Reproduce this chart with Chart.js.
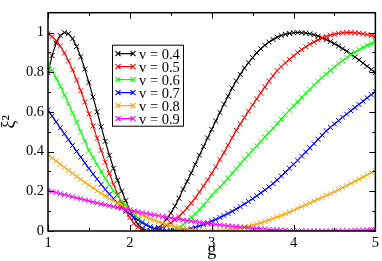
<!DOCTYPE html>
<html>
<head>
<meta charset="utf-8">
<script src="https://cdn.jsdelivr.net/npm/chart.js@4.4.0/dist/chart.umd.min.js"></script>
<style>
  html, body { margin: 0; padding: 0; background: #fff; }
  canvas { display: block; }
</style>
</head>
<body>
<canvas id="chart" width="382" height="261"></canvas>
<script>
// g values (x) and xi^2 for each v
const gVals = [
  1.00, 1.05, 1.10, 1.15, 1.20, 1.25, 1.30, 1.35, 1.40, 1.45,
  1.50, 1.55, 1.60, 1.65, 1.70, 1.75, 1.80, 1.85, 1.90, 1.95,
  2.00, 2.05, 2.10, 2.15, 2.20, 2.25, 2.30, 2.35, 2.40, 2.45,
  2.50, 2.55, 2.60, 2.65, 2.70, 2.75, 2.80, 2.85, 2.90, 2.95,
  3.00, 3.05, 3.10, 3.15, 3.20, 3.25, 3.30, 3.35, 3.40, 3.45,
  3.50, 3.55, 3.60, 3.65, 3.70, 3.75, 3.80, 3.85, 3.90, 3.95,
  4.00, 4.05, 4.10, 4.15, 4.20, 4.25, 4.30, 4.35, 4.40, 4.45,
  4.50, 4.55, 4.60, 4.65, 4.70, 4.75, 4.80, 4.85, 4.90, 4.95,
  5.00
];
const v04 = [
  0.797, 0.884, 0.947, 0.985, 1.000, 0.994, 0.969, 0.930, 0.878, 0.816,
  0.748, 0.675, 0.600, 0.525, 0.452, 0.382, 0.316, 0.256, 0.201, 0.153,
  0.105, 0.065, 0.034, 0.013, 0.002, 0.001, 0.006, 0.018, 0.036, 0.061,
  0.090, 0.125, 0.165, 0.210, 0.250, 0.292, 0.336, 0.382, 0.425, 0.469,
  0.512, 0.554, 0.597, 0.639, 0.679, 0.720, 0.756, 0.789, 0.821, 0.848,
  0.874, 0.898, 0.918, 0.936, 0.952, 0.965, 0.976, 0.985, 0.991, 0.996,
  0.999, 1.000, 0.999, 0.997, 0.994, 0.989, 0.982, 0.974, 0.965, 0.955,
  0.944, 0.932, 0.919, 0.906, 0.892, 0.877, 0.862, 0.846, 0.830, 0.814,
  0.798
];
const v05 = [
  0.994, 0.980, 0.959, 0.932, 0.897, 0.857, 0.812, 0.761, 0.707, 0.650,
  0.590, 0.529, 0.467, 0.406, 0.347, 0.290, 0.236, 0.185, 0.140, 0.100,
  0.067, 0.039, 0.019, 0.006, 0.000, 0.001, 0.004, 0.010, 0.018, 0.028,
  0.041, 0.056, 0.073, 0.093, 0.116, 0.140, 0.167, 0.196, 0.226, 0.257,
  0.290, 0.324, 0.360, 0.395, 0.432, 0.470, 0.507, 0.540, 0.571, 0.604,
  0.635, 0.666, 0.696, 0.726, 0.755, 0.782, 0.808, 0.828, 0.847, 0.865,
  0.882, 0.899, 0.914, 0.928, 0.941, 0.952, 0.963, 0.972, 0.980, 0.987,
  0.992, 0.996, 0.998, 1.000, 1.000, 0.999, 0.997, 0.994, 0.990, 0.985,
  0.979
];
const v06 = [
  0.845, 0.809, 0.770, 0.729, 0.686, 0.641, 0.595, 0.548, 0.500, 0.453,
  0.406, 0.370, 0.334, 0.299, 0.265, 0.233, 0.202, 0.176, 0.152, 0.130,
  0.106, 0.084, 0.064, 0.047, 0.032, 0.020, 0.011, 0.005, 0.001, 0.000,
  0.003, 0.009, 0.018, 0.032, 0.048, 0.068, 0.087, 0.107, 0.130, 0.154,
  0.180, 0.201, 0.222, 0.244, 0.267, 0.290, 0.314, 0.338, 0.363, 0.385,
  0.407, 0.429, 0.451, 0.474, 0.496, 0.518, 0.541, 0.563, 0.586, 0.608,
  0.630, 0.651, 0.673, 0.694, 0.714, 0.735, 0.754, 0.773, 0.791, 0.809,
  0.826, 0.843, 0.859, 0.874, 0.888, 0.901, 0.914, 0.925, 0.936, 0.945,
  0.955
];
const v07 = [
  0.610, 0.580, 0.550, 0.520, 0.490, 0.460, 0.431, 0.401, 0.372, 0.343,
  0.315, 0.287, 0.261, 0.235, 0.210, 0.186, 0.163, 0.142, 0.122, 0.102,
  0.085, 0.069, 0.055, 0.042, 0.031, 0.021, 0.013, 0.007, 0.003, 0.001,
  0.000, 0.001, 0.002, 0.005, 0.008, 0.013, 0.018, 0.025, 0.032, 0.041,
  0.050, 0.058, 0.068, 0.078, 0.088, 0.099, 0.111, 0.123, 0.136, 0.149,
  0.163, 0.177, 0.192, 0.207, 0.222, 0.239, 0.257, 0.277, 0.296, 0.316,
  0.336, 0.356, 0.377, 0.398, 0.419, 0.440, 0.462, 0.483, 0.505, 0.522,
  0.539, 0.556, 0.573, 0.589, 0.606, 0.622, 0.638, 0.654, 0.671, 0.687,
  0.702
];
const v08 = [
  0.386, 0.368, 0.353, 0.336, 0.321, 0.305, 0.290, 0.275, 0.260, 0.245,
  0.231, 0.217, 0.203, 0.190, 0.177, 0.164, 0.152, 0.140, 0.129, 0.118,
  0.107, 0.097, 0.088, 0.078, 0.070, 0.061, 0.054, 0.046, 0.039, 0.033,
  0.027, 0.022, 0.018, 0.013, 0.010, 0.007, 0.004, 0.002, 0.001, 0.000,
  0.000, 0.000, 0.001, 0.003, 0.005, 0.008, 0.011, 0.015, 0.020, 0.024,
  0.030, 0.035, 0.041, 0.048, 0.055, 0.063, 0.071, 0.078, 0.087, 0.095,
  0.104, 0.114, 0.123, 0.133, 0.142, 0.151, 0.160, 0.169, 0.179, 0.188,
  0.198, 0.208, 0.219, 0.229, 0.240, 0.250, 0.261, 0.272, 0.283, 0.295,
  0.306
];
const v09 = [
  0.205, 0.199, 0.194, 0.188, 0.183, 0.178, 0.172, 0.167, 0.162, 0.157,
  0.152, 0.147, 0.142, 0.137, 0.132, 0.127, 0.123, 0.118, 0.114, 0.109,
  0.105, 0.101, 0.097, 0.092, 0.088, 0.084, 0.081, 0.077, 0.073, 0.070,
  0.066, 0.063, 0.059, 0.056, 0.053, 0.050, 0.047, 0.044, 0.041, 0.038,
  0.036, 0.033, 0.031, 0.028, 0.026, 0.024, 0.022, 0.020, 0.018, 0.016,
  0.014, 0.013, 0.011, 0.010, 0.008, 0.007, 0.006, 0.005, 0.004, 0.003,
  0.0025, 0.0018, 0.0013, 0.0008, 0.0005, 0.0002, 0.0001, 0.0, 0.0, 0.0002,
  0.0004, 0.0007, 0.0012, 0.0017, 0.0023, 0.003, 0.0039, 0.0048, 0.0058, 0.0069,
  0.0081
];

const seriesList = [v04, v05, v06, v07, v08, v09];
const seriesNames = ["v = 0.4", "v = 0.5", "v = 0.6", "v = 0.7", "v = 0.8", "v = 0.9"];
const seriesColors = ["#000000", "#ff0000", "#00ff00", "#0000ff", "#ffa500", "#ff00ff"];

const xMajor = [1, 2, 3, 4, 5];
const xMinor = [1.5, 2.5, 3.5, 4.5];
const yMajor = [0, 0.2, 0.4, 0.6, 0.8, 1];
const yMinor = [0.1, 0.3, 0.5, 0.7, 0.9];

const serif = "'Liberation Serif', 'DejaVu Serif', serif";

// frame with inward ticks on all four sides
const frame = {
  id: "frame",
  afterDatasetsDraw(chart) {
    const { ctx, chartArea: a, scales: { x, y } } = chart;
    ctx.save();
    ctx.strokeStyle = "#000";
    ctx.lineWidth = 1;
    ctx.beginPath();
    const xt = (vals, len) => {
      for (const v of vals) {
        const px = Math.round(x.getPixelForValue(v)) + 0.5;
        ctx.moveTo(px, a.bottom); ctx.lineTo(px, a.bottom - len);
        ctx.moveTo(px, a.top); ctx.lineTo(px, a.top + len);
      }
    };
    const yt = (vals, len) => {
      for (const v of vals) {
        const py = Math.round(y.getPixelForValue(v)) + 0.5;
        ctx.moveTo(a.left, py); ctx.lineTo(a.left + len, py);
        ctx.moveTo(a.right, py); ctx.lineTo(a.right - len, py);
      }
    };
    xt(xMajor, 6); xt(xMinor, 3);
    yt(yMajor, 6); yt(yMinor, 3);
    ctx.stroke();
    ctx.lineWidth = 1.5;
    ctx.strokeRect(a.left, a.top, a.right - a.left, a.bottom - a.top);
    ctx.restore();
  }
};

// legend box inside the plot
const legendBox = {
  id: "legendBox",
  afterDraw(chart) {
    const { ctx, chartArea: a } = chart;
    const x0 = a.left + 64, y0 = a.top + 32, w = 71, h = 81;
    ctx.save();
    ctx.fillStyle = "#fff";
    ctx.fillRect(x0, y0, w, h);
    ctx.strokeStyle = "#000";
    ctx.lineWidth = 1;
    ctx.strokeRect(x0 + 0.5, y0 + 0.5, w, h);
    ctx.font = "14.5px " + serif;
    ctx.textBaseline = "middle";
    chart.data.datasets.forEach((ds, i) => {
      const yy = y0 + 9 + 13 * i;
      const xa = x0 + 6, xb = x0 + 21;
      ctx.strokeStyle = ds.borderColor;
      ctx.lineWidth = 1.2;
      ctx.beginPath();
      ctx.moveTo(xa, yy); ctx.lineTo(xb, yy);
      for (const cx of [xa, xb]) {
        ctx.moveTo(cx - 2.5, yy - 2.5); ctx.lineTo(cx + 2.5, yy + 2.5);
        ctx.moveTo(cx - 2.5, yy + 2.5); ctx.lineTo(cx + 2.5, yy - 2.5);
      }
      ctx.stroke();
      ctx.fillStyle = "#000";
      ctx.fillText(ds.label, x0 + 27, yy + 1);
    });
    ctx.restore();
  }
};

new Chart(document.getElementById("chart"), {
  type: "line",
  data: {
    datasets: seriesList.map((s, i) => ({
      label: seriesNames[i],
      data: gVals.map((g, j) => ({ x: g, y: s[j] })),
      borderColor: seriesColors[i],
      backgroundColor: seriesColors[i],
      borderWidth: 1.2,
      tension: 0,
      fill: false,
      pointStyle: "crossRot",
      pointRadius: 3.5,
      pointBorderWidth: 1,
      pointBorderColor: seriesColors[i],
      order: seriesList.length - i,
    })),
  },
  options: {
    responsive: false,
    animation: false,
    devicePixelRatio: 1,
    layout: { padding: { left: 0, top: 1, right: 4, bottom: 0 } },
    plugins: { legend: { display: false }, tooltip: { enabled: false } },
    scales: {
      x: {
        type: "linear",
        min: 1,
        max: 5,
        grid: { display: false, drawTicks: false },
        border: { display: false },
        ticks: { stepSize: 1, padding: 3, color: "#000", font: { family: serif, size: 14.5 }, maxRotation: 0, autoSkip: false, callback: (v) => String(v) },
        title: { display: true, text: "g", color: "#000", font: { family: serif, size: 18 }, padding: { top: 0, bottom: 0 } },
        afterFit(s) { s.height = 30; },
      },
      y: {
        type: "linear",
        min: 0,
        max: 1.1,
        grid: { display: false, drawTicks: false },
        border: { display: false },
        ticks: { stepSize: 0.2, includeBounds: false, padding: 4, color: "#000", font: { family: serif, size: 14.5 }, callback: (v) => String(+v.toFixed(1)) },
        title: { display: true, text: "ξ²", color: "#000", font: { family: serif, size: 18 }, padding: { top: -2, bottom: 0 } },
        afterFit(s) { s.width = 48; },
      },
    },
  },
  plugins: [frame, legendBox],
});
</script>
</body>
</html>
